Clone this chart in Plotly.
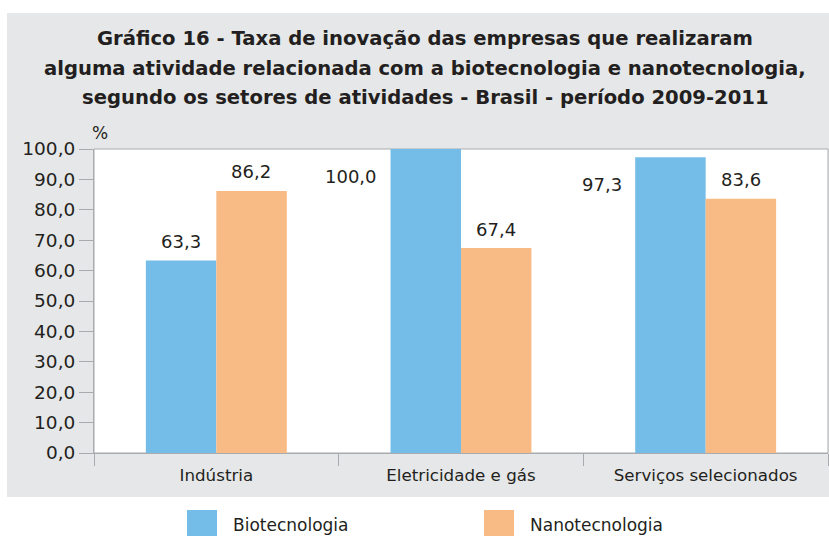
import plotly.graph_objects as go

categories = ['Indústria', 'Eletricidade e gás', 'Serviços selecionados']
series_names = ['Biotecnologia', 'Nanotecnologia']
biotecnologia = [63.3, 100.0, 97.3]
nanotecnologia = [86.2, 67.4, 83.6]
y_ticks = [0, 10, 20, 30, 40, 50, 60, 70, 80, 90, 100]
title_lines = [
    'Gráfico 16 - Taxa de inovação das empresas que realizaram',
    'alguma atividade relacionada com a biotecnologia e nanotecnologia,',
    'segundo os setores de atividades - Brasil - período 2009-2011',
]

colors = ['#74bde8', '#f9bb85']
text_color = '#231f20'
grey_bg = '#e6e7e8'
line_grey = '#a9abae'
font_main = 'DejaVu Sans'

# page / plot area in pixels
W, H = 829, 536
L, R, T, B = 94, 828, 149, 453


def px_x(p):
    return (p - L) / (R - L)


def px_y(p):
    return (B - p) / (B - T)


def fmt(v):
    return f'{v:.1f}'.replace('.', ',')


fig = go.Figure()
for name, vals, col in zip(series_names, [biotecnologia, nanotecnologia], colors):
    fig.add_trace(go.Bar(
        x=categories,
        y=vals,
        name=name,
        marker=dict(color=col, line=dict(width=0)),
        showlegend=False
    ))

# value labels
annotations = []
bar_half = 35
for k, vals in enumerate([biotecnologia, nanotecnologia]):
    side = -1 if k == 0 else 1
    for cat, v in zip(categories, vals):
        if v > 95:
            # no room above the bar: label sits to its left
            annotations.append(dict(
                x=cat, y=v, xref='x', yref='y', text=fmt(v), showarrow=False,
                xanchor='right', yanchor='middle', xshift=side * bar_half - bar_half - 12,
                yshift=-27, font=dict(family=font_main, size=18, color=text_color)
            ))
        else:
            annotations.append(dict(
                x=cat, y=v, xref='x', yref='y', text=fmt(v), showarrow=False,
                xanchor='center', yanchor='middle', xshift=side * bar_half,
                yshift=19, font=dict(family=font_main, size=18, color=text_color)
            ))

# title, one annotation per line
for i, line in enumerate(title_lines):
    annotations.append(dict(
        x=px_x(425), y=px_y(38 + 30 * i), xref='paper', yref='paper',
        text='<b>' + line + '</b>', showarrow=False, xanchor='center', yanchor='middle',
        font=dict(family=font_main, size=19.6, color=text_color)
    ))

# % unit label
annotations.append(dict(
    x=px_x(90), y=px_y(133), xref='paper', yref='paper', text='%', showarrow=False,
    xanchor='left', yanchor='middle', font=dict(family=font_main, size=17, color=text_color)
))

# legend drawn by hand (large swatches)
legend_x = [187, 484]
shapes = [
    dict(type='rect', xref='paper', yref='paper', x0=px_x(7), x1=px_x(829),
         y0=px_y(13), y1=px_y(497), fillcolor=grey_bg, line=dict(width=0), layer='below'),
    dict(type='rect', xref='paper', yref='paper', x0=0, x1=1, y0=0, y1=1,
         fillcolor='white', line=dict(color=line_grey, width=1), layer='below'),
]
for name, col, lx in zip(series_names, colors, legend_x):
    shapes.append(dict(type='rect', xref='paper', yref='paper', x0=px_x(lx), x1=px_x(lx + 30),
                       y0=px_y(510), y1=px_y(541), fillcolor=col, line=dict(width=0)))
    annotations.append(dict(
        x=px_x(lx + 44), y=px_y(525), xref='paper', yref='paper', text=name, showarrow=False,
        xanchor='left', yanchor='middle', font=dict(family=font_main, size=17, color=text_color)
    ))

fig.update_layout(
    width=W,
    height=H,
    autosize=False,
    margin=dict(l=L, r=W - R, t=T, b=H - B, pad=0),
    paper_bgcolor='white',
    plot_bgcolor='rgba(0,0,0,0)',
    barmode='group',
    bargap=0.424,
    bargroupgap=0,
    separators=',.',
    font=dict(family=font_main, size=17, color=text_color),
    shapes=shapes,
    annotations=annotations,
    xaxis=dict(
        type='category',
        tickson='boundaries',
        ticks='outside',
        ticklen=12,
        tickcolor=line_grey,
        showline=True,
        linecolor=line_grey,
        showgrid=False,
        ticklabelstandoff=7,
        tickfont=dict(family=font_main, size=16.7, color=text_color),
        fixedrange=True
    ),
    yaxis=dict(
        range=[0, 100],
        tickmode='array',
        tickvals=y_ticks,
        tickformat='.1f',
        ticks='outside',
        ticklen=14,
        tickcolor=line_grey,
        showline=True,
        linecolor=line_grey,
        showgrid=False,
        zeroline=False,
        ticklabelstandoff=0,
        tickfont=dict(family=font_main, size=18.5, color=text_color),
        fixedrange=True
    )
)

# the page body has a default 8px margin; remove it so the figure fills the window
fig.write_html('out.html', config={'displayModeBar': False},
               post_script="document.body.style.margin='0';")
